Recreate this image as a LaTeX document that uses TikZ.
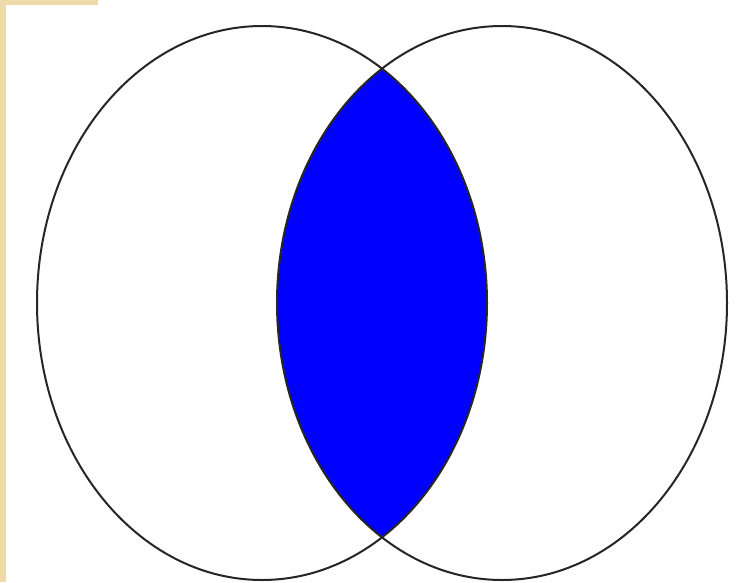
\documentclass[tikz,border=0pt]{standalone}
\begin{document}
\begin{tikzpicture}[x=1pt,y=-1pt,
  outline/.style={draw=black!85,line width=2pt},
  tanbar/.style={fill=tanc,draw=none}]
\definecolor{tanc}{RGB}{238,218,168}
\definecolor{lensblue}{RGB}{0,0,255}
\useasboundingbox (0,0) rectangle (745,582);
\fill[white] (0,0) rectangle (745,582);
\fill[tanbar] (0,0) rectangle (6,582);
\fill[tanbar] (0,0) rectangle (98,5);
\begin{scope}
  \clip (262,303) ellipse [x radius=225, y radius=277];
  \fill[lensblue] (502,303) ellipse [x radius=225, y radius=277];
\end{scope}
\draw[outline] (262,303) ellipse [x radius=225, y radius=277];
\draw[outline] (502,303) ellipse [x radius=225, y radius=277];
\end{tikzpicture}
\end{document}
